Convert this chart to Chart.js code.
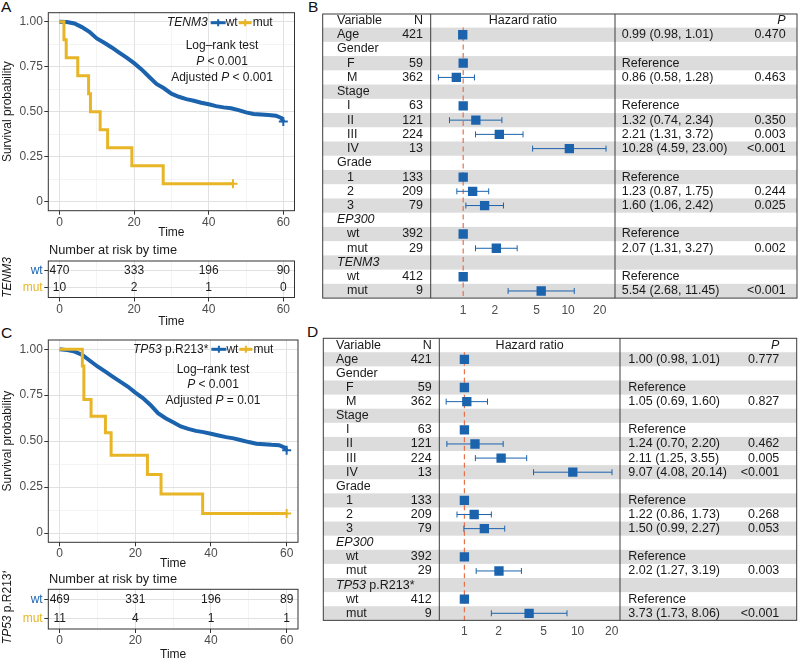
<!DOCTYPE html>
<html><head><meta charset="utf-8">
<script src="https://cdn.jsdelivr.net/npm/chart.js@4.4.1/dist/chart.umd.min.js"></script>
<style>
html,body{margin:0;padding:0;background:#fff;overflow:hidden;width:798px;height:659px;position:relative;}
canvas{position:absolute;}
.lab{position:absolute;font-family:'Liberation Sans',Arial,sans-serif;font-size:15.5px;color:#111;line-height:1;}
</style></head><body>
<div class="lab" style="left:1px;top:-1px">A</div>
<div class="lab" style="left:308px;top:-1px">B</div>
<div class="lab" style="left:1px;top:325px">C</div>
<div class="lab" style="left:307px;top:324px">D</div>
<canvas id="kmA" style="left:0;top:0;width:305px;height:240px" width="305" height="240"></canvas>
<canvas id="riskA" style="left:0;top:240px;width:305px;height:89px" width="305" height="89"></canvas>
<canvas id="kmC" style="left:0;top:328px;width:305px;height:243px" width="305" height="243"></canvas>
<canvas id="riskC" style="left:0;top:571px;width:305px;height:91px" width="305" height="91"></canvas>
<canvas id="forB" style="left:305px;top:0;width:493px;height:322px" width="493" height="322"></canvas>
<canvas id="forD" style="left:305px;top:328px;width:493px;height:331px" width="493" height="331"></canvas>
<script>
// ---------------- DATA ----------------
const timeTicks = [0, 10, 20, 30, 40, 50, 60];
const survTicks = [0, 0.125, 0.25, 0.375, 0.5, 0.625, 0.75, 0.875, 1];

const geneA = "TENM3";
const geneC = "TP53 p.R213*";
const groups = ["wt", "mut"];

// Panel A: TENM3
const wtA_time = [0,2,4,6,8,10,12,14,16,18,20,22,24,26,28,30,32,34,36,38,40,42,44,46,48,50,52,54,56,58,59.5,60];
const wtA_surv = [1.00,0.998,0.99,0.97,0.944,0.907,0.883,0.857,0.828,0.80,0.77,0.735,0.694,0.654,0.63,0.60,0.583,0.57,0.561,0.55,0.541,0.531,0.524,0.519,0.509,0.496,0.487,0.485,0.482,0.478,0.465,0.445];
const mutA_time = [0,1.2,1.8,4.9,7.8,8.3,10.9,12.9,19.4,27.8,46.5];
const mutA_surv = [1.0,0.9,0.8,0.7,0.6,0.5,0.4,0.3,0.2,0.1,0.1];
const logrankA = "< 0.001";
const adjustedA = "< 0.001";

// Panel C: TP53 p.R213*
const wtC_time = [0,2,4,6,8,10,12,14,16,18,20,22,24,26,28,30,32,34,36,38,40,42,44,46,48,50,52,54,56,58,59.5,60];
const wtC_surv = [1.00,0.995,0.987,0.969,0.937,0.906,0.879,0.851,0.824,0.797,0.764,0.734,0.697,0.652,0.625,0.603,0.58,0.567,0.556,0.549,0.54,0.531,0.522,0.515,0.505,0.495,0.486,0.483,0.48,0.478,0.465,0.45];
const mutC_time = [0,6.0,6.4,8.3,12.1,13.6,23.2,26.8,37.8,60];
const mutC_surv = [1.0,0.909,0.727,0.636,0.545,0.424,0.318,0.212,0.106,0.106];
const logrankC = "< 0.001";
const adjustedC = "= 0.01";

// Numbers at risk
const riskTimes = [0, 20, 40, 60];
const riskA_wt = [470, 333, 196, 90];
const riskA_mut = [10, 2, 1, 0];
const riskC_wt = [469, 331, 196, 89];
const riskC_mut = [11, 4, 1, 1];

// Forest plots
const forestLabelsB = ["Age","Gender","F","M","Stage","I","II","III","IV","Grade","1","2","3","EP300","wt","mut","TENM3","wt","mut"];
const forestLabelsD = ["Age","Gender","F","M","Stage","I","II","III","IV","Grade","1","2","3","EP300","wt","mut","TP53 p.R213*","wt","mut"];
const forestLevel  = [0,0,1,1,0,1,1,1,1,0,1,1,1,0,1,1,0,1,1];
const nCounts = [421,null,59,362,null,63,121,224,13,null,133,209,79,null,392,29,null,412,9];
const italicTerms = ["EP300","TENM3","TP53"];

const hrB = [0.99,null,1,0.86,null,1,1.32,2.21,10.28,null,1,1.23,1.60,null,1,2.07,null,1,5.54];
const loB = [0.98,null,null,0.58,null,null,0.74,1.31,4.59,null,null,0.87,1.06,null,null,1.31,null,null,2.68];
const hiB = [1.01,null,null,1.28,null,null,2.34,3.72,23.00,null,null,1.75,2.42,null,null,3.27,null,null,11.45];
const pB  = ["0.470","","","0.463","","","0.350","0.003","<0.001","","","0.244","0.025","","","0.002","","","<0.001"];

const hrD = [1.00,null,1,1.05,null,1,1.24,2.11,9.07,null,1,1.22,1.50,null,1,2.02,null,1,3.73];
const loD = [0.98,null,null,0.69,null,null,0.70,1.25,4.08,null,null,0.86,0.99,null,null,1.27,null,null,1.73];
const hiD = [1.01,null,null,1.60,null,null,2.20,3.55,20.14,null,null,1.73,2.27,null,null,3.19,null,null,8.06];
const pD  = ["0.777","","","0.827","","","0.462","0.005","<0.001","","","0.268","0.053","","","0.003","","","<0.001"];

const hrTicks = [1, 2, 5, 10, 20];

// ---------------- STYLE ----------------
const FF = "'Liberation Sans', Arial, Helvetica, sans-serif";
Chart.defaults.font.family = FF;
const BLUE = '#1b63ad', GOLD = '#e7b526', BAND = '#dcdcdc', DASH = '#e5714d';
const TXT = '#1a1a1a', AX = '#4d4d4d', FRAME = '#333333';
const GRID_MAJ = '#e1e1e1', GRID_MIN = '#ececec';

function fontStr(size, italic){ return (italic ? 'italic ' : '') + size + 'px ' + FF; }
function toSegs(text){
  // split text into italic / normal segments by gene terms
  const words = text.split(' ');
  const segs = [];
  words.forEach((w, i) => {
    const it = italicTerms.includes(w);
    const t = (i > 0 ? ' ' : '') + w;
    if (i > 0 && !it) segs.push([' ' + w, false]);
    else if (i > 0) { segs.push([' ', false]); segs.push([w, true]); }
    else segs.push([w, it]);
  });
  return segs;
}
function richWidth(ctx, segs, size){
  let w = 0;
  segs.forEach(s => { ctx.font = fontStr(size, s[1]); w += ctx.measureText(s[0]).width; });
  return w;
}
function drawRich(ctx, segs, x, y, size, align, color){
  const w = richWidth(ctx, segs, size);
  let sx = align === 'center' ? x - w / 2 : (align === 'right' ? x - w : x);
  ctx.textAlign = 'left'; ctx.textBaseline = 'middle'; ctx.fillStyle = color;
  segs.forEach(s => { ctx.font = fontStr(size, s[1]); ctx.fillText(s[0], sx, y); sx += ctx.measureText(s[0]).width; });
  return w;
}
function crossMark(ctx, x, y, r, color, lw){
  ctx.strokeStyle = color; ctx.lineWidth = lw;
  ctx.beginPath(); ctx.moveTo(x - r, y); ctx.lineTo(x + r, y); ctx.moveTo(x, y - r); ctx.lineTo(x, y + r); ctx.stroke();
}

const isMajX = v => Math.abs(v % 20) < 1e-9;
const isMajY = v => Math.abs(v * 4 - Math.round(v * 4)) < 1e-9;

function xTimeScale(c){
  return {
    type: 'linear', min: -3, max: 63,
    afterBuildTicks: s => { s.ticks = timeTicks.map(v => ({value: v})); },
    afterFit: s => { s.height = c.xH; },
    grid: {
      color: g => isMajX(g.tick.value) ? GRID_MAJ : GRID_MIN,
      lineWidth: g => isMajX(g.tick.value) ? 1 : 0.6,
      tickColor: g => isMajX(g.tick.value) ? FRAME : 'rgba(0,0,0,0)',
      tickWidth: 1, tickLength: 4, drawTicks: true
    },
    border: {display: false},
    ticks: {autoSkip: false, maxRotation: 0, padding: c.xPad, color: AX, font: {size: 12},
            callback: v => isMajX(v) ? String(v) : ''},
    title: {display: true, text: 'Time', color: TXT, font: {size: 12}, padding: {top: 0, bottom: 0}}
  };
}

function kmChart(id, c){
  const lastMut = c.mutT.length - 1, lastWt = c.wtT.length - 1;
  new Chart(document.getElementById(id), {
    type: 'line',
    data: {datasets: [
      {label: 'mut', data: c.mutT.map((t, i) => ({x: t, y: c.mutS[i]})), borderColor: GOLD, backgroundColor: GOLD,
       borderWidth: 3, stepped: 'before', pointStyle: 'cross', pointRadius: c.mutT.map((t, i) => i === lastMut ? 4.5 : 0),
       pointBorderWidth: 2, pointBorderColor: GOLD, fill: false},
      {label: 'wt', data: c.wtT.map((t, i) => ({x: t, y: c.wtS[i]})), borderColor: BLUE, backgroundColor: BLUE,
       borderWidth: 4, tension: 0, pointStyle: 'cross', pointRadius: c.wtT.map((t, i) => i === lastWt ? 4.5 : 0),
       pointBorderWidth: 2, pointBorderColor: BLUE, fill: false}
    ]},
    options: {
      responsive: false, animation: false, events: [],
      layout: {padding: {left: 0, top: c.top, right: c.right, bottom: 0}},
      plugins: {legend: {display: false}, tooltip: {enabled: false}},
      scales: {
        x: xTimeScale(c),
        y: {
          type: 'linear', min: -0.05, max: 1.05,
          afterBuildTicks: s => { s.ticks = survTicks.map(v => ({value: v})); },
          afterFit: s => { s.width = 48.3; },
          grid: {
            color: g => isMajY(g.tick.value) ? GRID_MAJ : GRID_MIN,
            lineWidth: g => isMajY(g.tick.value) ? 1 : 0.6,
            tickColor: g => isMajY(g.tick.value) ? FRAME : 'rgba(0,0,0,0)',
            tickWidth: 1, tickLength: 4, drawTicks: true
          },
          border: {display: false},
          ticks: {autoSkip: false, padding: 1.5, color: AX, font: {size: 12},
                  callback: v => isMajY(v) ? (v === 0 ? '0' : v.toFixed(2)) : ''},
          title: {display: true, text: 'Survival probability', color: TXT, font: {size: 12}, padding: {top: 0, bottom: 0}}
        }
      }
    },
    plugins: [{
      id: 'kmDecor',
      afterDraw(chart){
        const ctx = chart.ctx, a = chart.chartArea;
        ctx.save();
        ctx.strokeStyle = FRAME; ctx.lineWidth = 1;
        ctx.strokeRect(a.left, a.top, a.right - a.left, a.bottom - a.top);
        // legend
        let x = c.legX;
        const ly = c.legY;
        x += drawRich(ctx, toSegs(c.gene), x, ly, 12, 'left', TXT) + 3;
        ctx.strokeStyle = BLUE; ctx.lineWidth = 3;
        ctx.beginPath(); ctx.moveTo(x, ly); ctx.lineTo(x + 15, ly); ctx.stroke();
        crossMark(ctx, x + 7.5, ly, 3.5, BLUE, 2);
        x += 15;
        x += drawRich(ctx, [[groups[0], false]], x, ly, 12, 'left', TXT) + 1;
        ctx.strokeStyle = GOLD; ctx.lineWidth = 3;
        ctx.beginPath(); ctx.moveTo(x, ly); ctx.lineTo(x + 13, ly); ctx.stroke();
        crossMark(ctx, x + 6.5, ly, 3.5, GOLD, 2);
        x += 14;
        drawRich(ctx, [[groups[1], false]], x, ly, 12, 'left', TXT);
        // log-rank annotation
        drawRich(ctx, [['Log\u2013rank test', false]], c.annX, c.annY[0], 12, 'center', TXT);
        drawRich(ctx, [['P', true], [' ' + c.logrank, false]], c.annX, c.annY[1], 12, 'center', TXT);
        drawRich(ctx, [['Adjusted ', false], ['P', true], [' ' + c.adjusted, false]], c.annX, c.annY[2], 12, 'center', TXT);
        ctx.restore();
      }
    }]
  });
}

function riskChart(id, c){
  new Chart(document.getElementById(id), {
    type: 'scatter',
    data: {datasets: []},
    options: {
      responsive: false, animation: false, events: [],
      layout: {padding: {left: 0, top: c.top, right: c.right, bottom: 0}},
      plugins: {legend: {display: false}, tooltip: {enabled: false}},
      scales: {
        x: xTimeScale(c),
        y: {
          type: 'linear', min: 0.45, max: 2.55, reverse: true,
          afterBuildTicks: s => { s.ticks = [1, 2].map(v => ({value: v})); },
          afterFit: s => { s.width = 48.3; },
          grid: {color: GRID_MAJ, lineWidth: 1, tickColor: FRAME, tickLength: 4, drawTicks: true},
          border: {display: false},
          ticks: {autoSkip: false, padding: 1.6, font: {size: 12},
                  color: g => g.index === 0 ? BLUE : GOLD,
                  callback: (v, i) => groups[i]}
        }
      }
    },
    plugins: [{
      id: 'riskDecor',
      afterDraw(chart){
        const ctx = chart.ctx, a = chart.chartArea, xs = chart.scales.x, ys = chart.scales.y;
        ctx.save();
        ctx.strokeStyle = FRAME; ctx.lineWidth = 1;
        ctx.strokeRect(a.left, a.top, a.right - a.left, a.bottom - a.top);
        ctx.font = fontStr(12, false); ctx.fillStyle = TXT; ctx.textAlign = 'center'; ctx.textBaseline = 'middle';
        [c.wt, c.mut].forEach((arr, gi) => {
          arr.forEach((n, k) => ctx.fillText(String(n), xs.getPixelForValue(riskTimes[k]), ys.getPixelForValue(gi + 1)));
        });
        drawRich(ctx, [['Number at risk by time', false]], 49, c.titleY, 12.8, 'left', TXT);
        // rotated gene label
        ctx.translate(7.5, c.geneY);
        ctx.rotate(-Math.PI / 2);
        drawRich(ctx, toSegs(c.gene), 0, 0, 12, 'center', TXT);
        ctx.restore();
      }
    }]
  });
}

function forestChart(id, c){
  const pts = [];
  c.hr.forEach((v, i) => { if (v != null) pts.push({x: v, y: i}); });
  new Chart(document.getElementById(id), {
    type: 'scatter',
    data: {datasets: [{data: pts, pointStyle: 'rect', pointRadius: 6.6, backgroundColor: BLUE, borderColor: BLUE, borderWidth: 0}]},
    options: {
      responsive: false, animation: false, events: [],
      layout: {padding: {left: c.left, right: c.right, top: c.top, bottom: 0}},
      plugins: {legend: {display: false}, tooltip: {enabled: false}},
      scales: {
        x: {type: 'logarithmic', min: c.min, max: c.max,
            afterBuildTicks: s => { s.ticks = hrTicks.map(v => ({value: v})); },
            afterFit: s => { s.height = c.xH; },
            grid: {display: false, drawTicks: false}, border: {display: false},
            ticks: {autoSkip: false, maxRotation: 0, padding: c.tickPad, color: AX, font: {size: 12}, callback: v => String(v)}},
        y: {type: 'linear', min: -0.5, max: c.hr.length - 0.5, reverse: true, display: false}
      }
    },
    plugins: [{
      id: 'forestDecor',
      beforeDatasetsDraw(chart){
        const ctx = chart.ctx, a = chart.chartArea, xs = chart.scales.x, ys = chart.scales.y;
        ctx.save();
        // bands
        ctx.fillStyle = BAND;
        for (let i = 0; i < c.hr.length; i += 2) {
          const y0 = ys.getPixelForValue(i - 0.5), y1 = ys.getPixelForValue(i + 0.5);
          ctx.fillRect(c.tableLeft, y0, c.tableRight - c.tableLeft, y1 - y0);
        }
        // reference line
        const x1 = xs.getPixelForValue(1);
        ctx.strokeStyle = DASH; ctx.lineWidth = 1.2; ctx.setLineDash([5, 3.5]);
        ctx.beginPath(); ctx.moveTo(x1, a.top); ctx.lineTo(x1, a.bottom); ctx.stroke();
        ctx.setLineDash([]);
        // error bars
        ctx.strokeStyle = BLUE; ctx.lineWidth = 1;
        c.hr.forEach((v, i) => {
          if (c.lo[i] == null) return;
          const yl = ys.getPixelForValue(i), xl = xs.getPixelForValue(c.lo[i]), xh = xs.getPixelForValue(c.hi[i]);
          ctx.beginPath();
          ctx.moveTo(xl, yl); ctx.lineTo(xh, yl);
          ctx.moveTo(xl, yl - 3); ctx.lineTo(xl, yl + 3);
          ctx.moveTo(xh, yl - 3); ctx.lineTo(xh, yl + 3);
          ctx.stroke();
        });
        // borders
        ctx.strokeStyle = '#3c3c3c'; ctx.lineWidth = 1;
        ctx.strokeRect(c.tableLeft, c.tableTop, c.tableRight - c.tableLeft, a.bottom - c.tableTop);
        ctx.beginPath();
        ctx.moveTo(a.left, c.tableTop); ctx.lineTo(a.left, a.bottom);
        ctx.moveTo(a.right, c.tableTop); ctx.lineTo(a.right, a.bottom);
        ctx.stroke();
        // header
        const hy = (c.tableTop + a.top) / 2;
        const FS = 12.5;
        drawRich(ctx, [['Variable', false]], c.varX, hy, FS, 'left', TXT);
        drawRich(ctx, [['N', false]], c.nX, hy, FS, 'right', TXT);
        drawRich(ctx, [['Hazard ratio', false]], (a.left + a.right) / 2, hy, FS, 'center', TXT);
        drawRich(ctx, [['P', true]], c.pX, hy, FS, 'right', TXT);
        // rows
        c.labels.forEach((lab, i) => {
          const y = ys.getPixelForValue(i);
          drawRich(ctx, toSegs(lab), forestLevel[i] ? c.subX : c.varX, y, FS, 'left', TXT);
          if (nCounts[i] != null) drawRich(ctx, [[String(nCounts[i]), false]], c.nX, y, FS, 'right', TXT);
          let est = '';
          if (c.hr[i] != null) est = c.lo[i] == null ? 'Reference' : `${c.hr[i].toFixed(2)} (${c.lo[i].toFixed(2)}, ${c.hi[i].toFixed(2)})`;
          if (est) drawRich(ctx, [[est, false]], c.estX, y, FS, 'left', TXT);
          if (c.p[i]) drawRich(ctx, [[c.p[i], false]], c.pX, y, FS, 'right', TXT);
        });
        ctx.restore();
      }
    }]
  });
}

// ---------------- BUILD ----------------
kmChart('kmA', {wtT: wtA_time, wtS: wtA_surv, mutT: mutA_time, mutS: mutA_surv, gene: geneA,
  top: 12.7, right: 10.5, xH: 29.3, xPad: 0.5, legX: 167, legY: 22.7, annX: 222, annY: [46, 62, 77.5],
  logrank: logrankA, adjusted: adjustedA});
riskChart('riskA', {wt: riskA_wt, mut: riskA_mut, gene: geneA, top: 21, right: 10.5, xH: 89 - 57.5, xPad: 0.6, titleY: 10.7, geneY: 37.5});
kmChart('kmC', {wtT: wtC_time, wtS: wtC_surv, mutT: mutC_time, mutS: mutC_surv, gene: geneC,
  top: 12, right: 7, xH: 243 - 214.3, xPad: 0, legX: 133, legY: 21.3, annX: 213, annY: [41.3, 57, 72.7],
  logrank: logrankC, adjusted: adjustedC});
riskChart('riskC', {wt: riskC_wt, mut: riskC_mut, gene: geneC, top: 18.3, right: 7, xH: 91 - 58, xPad: 0, titleY: 8.3, geneY: 35.5});

forestChart('forB', {labels: forestLabelsB, hr: hrB, lo: loB, hi: hiB, p: pB, min: 0.49, max: 28,
  left: 125.7, right: 183, top: 27.6, xH: 322 - 298.1, tickPad: 5.4,
  tableLeft: 17.7, tableRight: 492, tableTop: 14, varX: 32, subX: 42, nX: 118, estX: 316.7, pX: 480.7});
forestChart('forD', {labels: forestLabelsD, hr: hrD, lo: loD, hi: hiD, p: pD, min: 0.60, max: 23.7,
  left: 134.3, right: 178, top: 24.25, xH: 331 - 292.35, tickPad: 4.2,
  tableLeft: 18.3, tableRight: 491.7, tableTop: 10.3, varX: 31, subX: 41, nX: 126.7, estX: 323.3, pX: 474.3});
</script>
</body></html>
